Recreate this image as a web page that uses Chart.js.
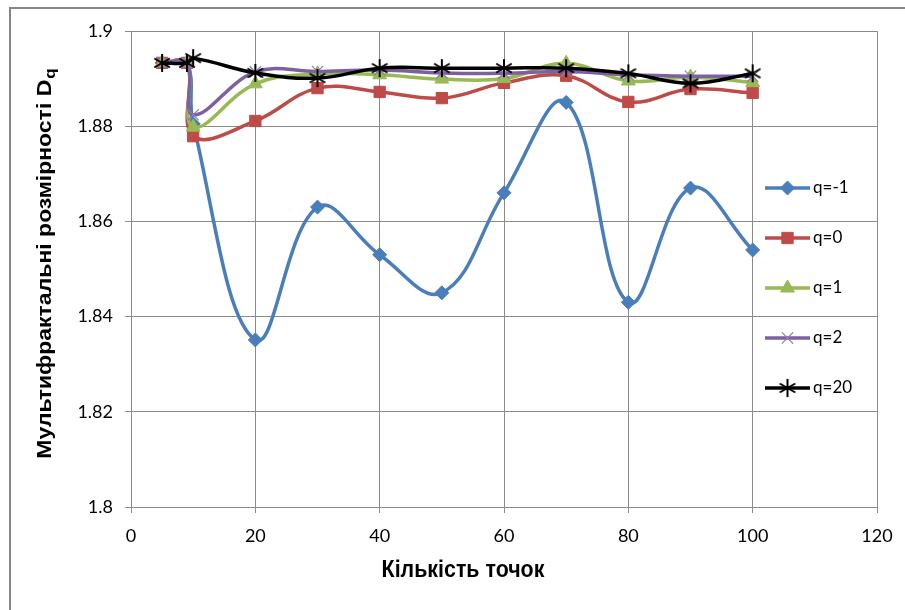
<!DOCTYPE html>
<html>
<head>
<meta charset="utf-8">
<script src="https://cdn.jsdelivr.net/npm/chart.js@4.4.1/dist/chart.umd.min.js"></script>
<style>
  html, body { margin: 0; padding: 0; background: #fff; }
  #wrap { width: 905px; height: 610px; position: relative; }
</style>
</head>
<body>
<div id="wrap"><canvas id="c" width="905" height="610"></canvas></div>
<script>
// Number of points used for the estimate
const pointCounts = [5, 9, 10, 20, 30, 40, 50, 60, 70, 80, 90, 100];

// Multifractal dimensions D_q for each q
const qMinus1 = [1.8933, 1.8933, 1.8805, 1.8351, 1.8630, 1.8530, 1.8450, 1.8660, 1.8850, 1.8430, 1.8670, 1.8540];
const q0      = [1.8933, 1.8933, 1.8779, 1.8811, 1.8880, 1.8872, 1.8859, 1.8891, 1.8906, 1.8851, 1.8878, 1.8870];
const q1      = [1.8933, 1.8933, 1.8798, 1.8889, 1.8910, 1.8908, 1.8899, 1.8900, 1.8932, 1.8895, 1.8903, 1.8892];
const q2      = [1.8933, 1.8933, 1.8824, 1.8914, 1.8915, 1.8918, 1.8912, 1.8911, 1.8915, 1.8908, 1.8905, 1.8905];
const q20     = [1.8933, 1.8933, 1.8943, 1.8912, 1.8901, 1.8922, 1.8922, 1.8922, 1.8922, 1.8911, 1.8890, 1.8911];

const seriesNames = ['q=-1', 'q=0', 'q=1', 'q=2', 'q=20'];
const yTicks = [1.8, 1.82, 1.84, 1.86, 1.88, 1.9];
const xTicks = [0, 20, 40, 60, 80, 100, 120];

const AXIS_FONT = "'Lato', 'Liberation Sans', sans-serif";
const TITLE_FONT = "'Liberation Sans', Arial, sans-serif";

// Asterisk marker: vertical stroke plus two diagonals
function asterisk(size, color, width) {
  const cv = document.createElement('canvas');
  cv.width = size; cv.height = size;
  const g = cv.getContext('2d');
  const c = size / 2, r = size / 2 - 1;
  g.strokeStyle = color; g.lineWidth = width; g.lineCap = 'butt';
  g.beginPath();
  g.moveTo(c, c - r); g.lineTo(c, c + r);
  const d = r * Math.cos(Math.PI / 6), e = r * Math.sin(Math.PI / 6);
  g.moveTo(c - d, c - e); g.lineTo(c + d, c + e);
  g.moveTo(c - d, c + e); g.lineTo(c + d, c - e);
  g.stroke();
  return cv;
}
const starMarker = asterisk(20, '#000000', 2);

const toPoints = arr => arr.map((v, i) => ({ x: pointCounts[i], y: v }));

const styles = [
  { color: '#4A7EBB', point: 'rectRot', radius: 7, pb: '#4A7EBB', pbw: 1, order: 4 },
  { color: '#BE4B48', point: 'rect', radius: 8, pb: '#BE4B48', pbw: 1, order: 3 },
  { color: '#98B954', point: 'triangle', radius: 8, pb: '#98B954', pbw: 1, order: 2 },
  { color: '#7D60A0', point: 'crossRot', radius: 8, pb: '#8F7AB5', pbw: 1.2, order: 1 },
  { color: '#000000', point: starMarker, radius: 9, pb: '#000000', pbw: 2, order: 0 }
];
const allSeries = [qMinus1, q0, q1, q2, q20];

const datasets = allSeries.map((arr, i) => ({
  label: seriesNames[i],
  data: toPoints(arr),
  borderColor: styles[i].color,
  backgroundColor: styles[i].color,
  borderWidth: 3.5,
  tension: 0.4,
  pointStyle: styles[i].point,
  pointRadius: styles[i].radius,
  pointBorderColor: styles[i].pb,
  pointBackgroundColor: styles[i].color,
  pointBorderWidth: styles[i].pbw,
  order: styles[i].order,
  clip: false
}));

// Chart frame, axis titles and the legend drawn over the plot
const decorations = {
  id: 'decorations',
  beforeDraw(chart) {
    const ctx = chart.ctx;
    ctx.save();
    ctx.fillStyle = '#ffffff';
    ctx.fillRect(0, 0, chart.width, chart.height);
    ctx.strokeStyle = '#868686';
    ctx.lineWidth = 2;
    ctx.strokeRect(10, 8, 900, 610);
    ctx.restore();
  },
  afterDraw(chart) {
    const ctx = chart.ctx;
    ctx.save();
    // y-axis title with subscript q
    ctx.fillStyle = '#000';
    ctx.translate(45, 264);
    ctx.rotate(-Math.PI / 2);
    ctx.scale(1, 0.9);
    const main = 'Мультифрактальні розмірності D';
    ctx.font = "bold 23px " + TITLE_FONT;
    const w1 = ctx.measureText(main).width;
    ctx.font = "bold 17px " + TITLE_FONT;
    const w2 = ctx.measureText('q').width;
    const start = -(w1 + w2) / 2;
    ctx.textBaseline = 'middle';
    ctx.textAlign = 'left';
    ctx.font = "bold 23px " + TITLE_FONT;
    ctx.fillText(main, start, 0);
    ctx.font = "bold 17px " + TITLE_FONT;
    ctx.fillText('q', start + w1 + 1, 6);
    ctx.restore();

    // x-axis title
    ctx.save();
    ctx.fillStyle = '#000';
    ctx.translate(463, 571);
    ctx.scale(0.93, 1);
    ctx.font = "bold 23px " + TITLE_FONT;
    ctx.textAlign = 'center';
    ctx.textBaseline = 'middle';
    ctx.fillText('Кількість точок', 0, 0);
    ctx.restore();

    // legend
    ctx.save();
    const lx0 = 765, lx1 = 810, ly0 = 188, step = 50;
    chart.data.datasets.forEach((ds, i) => {
      const y = ly0 + i * step;
      ctx.strokeStyle = ds.borderColor;
      ctx.lineWidth = 3.5;
      ctx.beginPath();
      ctx.moveTo(lx0, y); ctx.lineTo(lx1, y);
      ctx.stroke();
      ctx.fillStyle = ds.pointBackgroundColor;
      ctx.strokeStyle = ds.pointBorderColor;
      ctx.lineWidth = ds.pointBorderWidth;
      Chart.helpers.drawPoint(ctx, {
        pointStyle: ds.pointStyle,
        radius: ds.pointRadius,
        borderWidth: ds.pointBorderWidth,
        rotation: 0
      }, (lx0 + lx1) / 2, y);
      ctx.fillStyle = '#000';
      ctx.font = "17px " + AXIS_FONT;
      ctx.textAlign = 'left';
      ctx.textBaseline = 'middle';
      ctx.fillText(ds.label, lx1 + 3, y);
    });
    ctx.restore();
  }
};

new Chart(document.getElementById('c'), {
  type: 'line',
  data: { datasets },
  plugins: [decorations],
  options: {
    responsive: false,
    animation: false,
    layout: { padding: { left: 0, top: 31, right: 28, bottom: 0 } },
    plugins: { legend: { display: false }, tooltip: { enabled: false } },
    scales: {
      x: {
        type: 'linear',
        min: 0, max: 120,
        afterFit(scale) { scale.height = 103; },
        afterBuildTicks(scale) { scale.ticks = xTicks.map(v => ({ value: v })); },
        grid: { color: '#8a8a8a', lineWidth: 1, tickLength: 6, drawTicks: true },
        border: { color: '#8a8a8a', width: 1 },
        ticks: {
          color: '#000', padding: 12,
          font: { family: AXIS_FONT, size: 18 },
          maxRotation: 0,
          callback: v => String(v)
        }
      },
      y: {
        min: 1.8, max: 1.9,
        afterFit(scale) { scale.width = 131; },
        afterBuildTicks(scale) { scale.ticks = yTicks.map(v => ({ value: v })); },
        grid: { color: '#8a8a8a', lineWidth: 1, tickLength: 6, drawTicks: true },
        border: { color: '#8a8a8a', width: 1 },
        ticks: {
          color: '#000', padding: 12,
          font: { family: AXIS_FONT, size: 18 },
          callback: v => String(Number(v.toFixed(2)))
        }
      }
    }
  }
});
</script>
</body>
</html>
